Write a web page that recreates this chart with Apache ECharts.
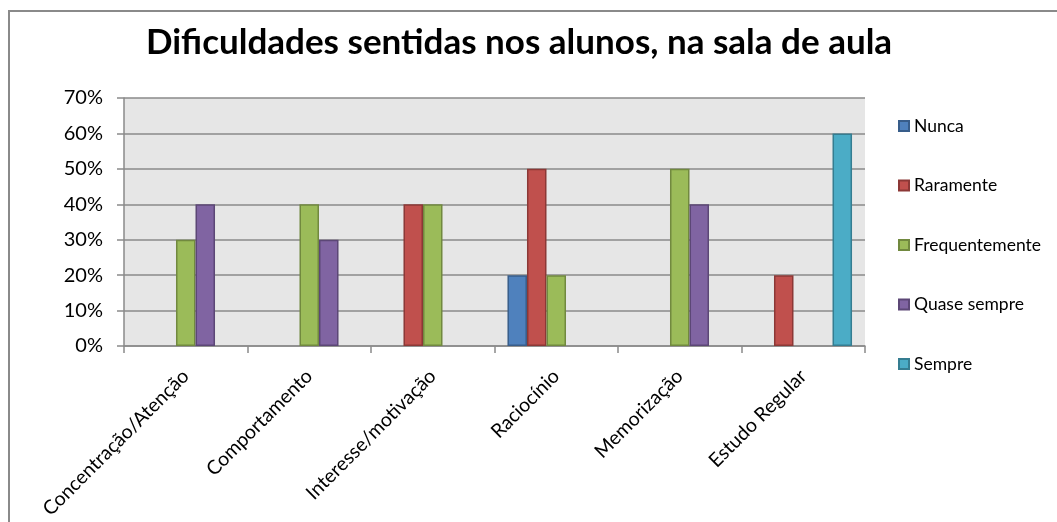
<!DOCTYPE html>
<html>
<head>
<meta charset="utf-8">
<script src="https://cdn.jsdelivr.net/npm/echarts@6/dist/echarts.min.js"></script>
<style>html,body{margin:0;padding:0;background:#fff}#c{width:1057px;height:522px}</style>
</head>
<body>
<div id="c"></div>
<script>
const categories = ['Concentração/Atenção','Comportamento','Interesse/motivação','Raciocínio','Memorização','Estudo Regular'];
const seriesNames = ['Nunca','Raramente','Frequentemente','Quase sempre','Sempre'];
const nunca = [0,0,0,20,0,0];
const raramente = [0,0,40,50,0,20];
const frequentemente = [30,40,40,20,50,0];
const quaseSempre = [40,30,0,0,40,0];
const sempre = [0,0,0,0,0,60];
const yTicks = [0,10,20,30,40,50,60,70];

const values = [nunca, raramente, frequentemente, quaseSempre, sempre];
const fills = ['#4F81BD','#C0504D','#9BBB59','#8064A2','#4BACC6'];
const borders = ['#385D8A','#8C3836','#71893F','#5C4776','#357D91'];
const FONT = 'Lato';

const chart = echarts.init(document.getElementById('c'), null, {renderer:'canvas'});
chart.setOption({
  animation:false,
  backgroundColor:'#fff',
  title:{
    text:'Dificuldades sentidas nos alunos, na sala de aula',
    left:514, top:20, textAlign:'center',
    textStyle:{fontFamily:FONT, fontWeight:'bold', fontSize:35, color:'#000'}
  },
  graphic:[{
    type:'rect', silent:true, z:-1,
    shape:{x:9, y:11, width:1200, height:700},
    style:{fill:'none', stroke:'#8a8a8a', lineWidth:2}
  }],
  legend:{
    orient:'vertical', left:898, top:116, itemGap:39.5, padding:0,
    itemWidth:10, itemHeight:10, icon:'rect',
    textStyle:{fontFamily:FONT, fontSize:17.5, color:'#000', lineHeight:20},
    data:seriesNames
  },
  grid:{left:124, top:98, right:192, bottom:176, show:true, backgroundColor:'#E6E6E6', borderWidth:0,
        containLabel:false, outerBoundsMode:'none'},
  xAxis:{
    type:'category', data:categories,
    axisLine:{lineStyle:{color:'#8a8a8a', width:1.5}},
    axisTick:{show:true, length:7, alignWithLabel:false, lineStyle:{color:'#8a8a8a', width:1.5}},
    axisLabel:{interval:0, rotate:45, margin:27, fontFamily:FONT, fontSize:19.5, color:'#000'}
  },
  yAxis:{
    type:'value', min:yTicks[0], max:yTicks[yTicks.length-1], interval:10,
    axisLine:{show:true, lineStyle:{color:'#8a8a8a', width:1.5}},
    axisTick:{show:true, length:7, lineStyle:{color:'#8a8a8a', width:1.5}},
    splitLine:{lineStyle:{color:'#8a8a8a', width:1.5}},
    axisLabel:{formatter:'{value}%', margin:21, fontFamily:FONT, fontSize:20, color:'#000'}
  },
  series: seriesNames.map((n,i)=>({
    name:n, type:'bar', barGap:'0%', barCategoryGap:'21%',
    itemStyle:{color:fills[i], borderColor:borders[i], borderWidth:1.5},
    data: values[i].map(v => v === 0 ? null : v)
  }))
});
</script>
</body>
</html>
